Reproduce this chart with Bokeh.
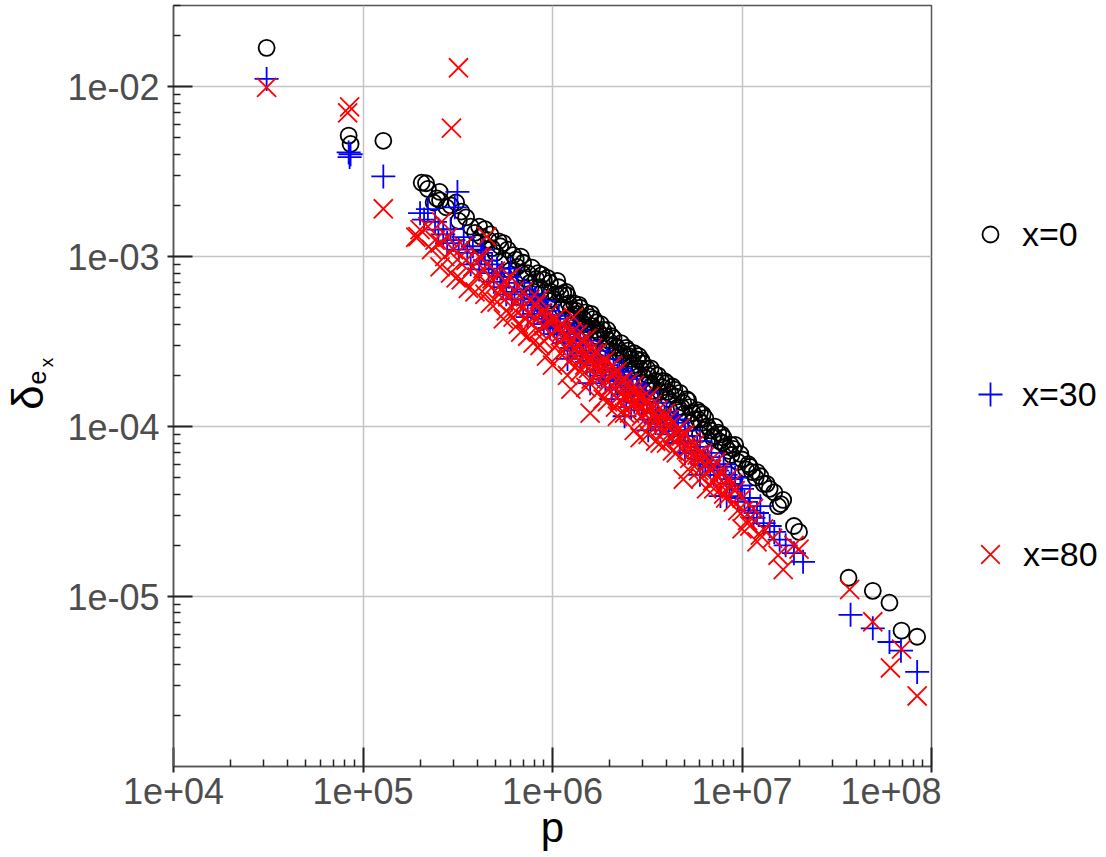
from math import pi
from bokeh.plotting import figure
from bokeh.layouts import row
from bokeh.models import Range1d, FixedTicker, Legend, LegendItem, Label, ColumnDataSource
from bokeh.embed import file_html
from bokeh.resources import INLINE

# ---------------- data ----------------
series_names = ["x=0", "x=30", "x=80"]

p_x0 = [3.1e4, 8.4e4, 8.6e4, 1.28e5,
        2.04e5, 2.15e5, 2.36e5, 2.54e5, 2.55e5, 2.75e5, 3.1e5, 3.3e5, 3.2e5, 3.7e5,
        3.9e5, 4.2e5, 4.0e5, 4.6e5, 5.0e5, 5.3e5, 5.8e5, 5.6e5, 6.2e5, 6.5e5,
        6.0e5, 7.0e5, 7.4e5, 7.8e5, 8.2e5, 8.6e5, 9.0e5, 9.4e5, 9.8e5, 1.06e6,
        1.02e6, 1.1e6, 1.15e6, 1.2e6, 1.25e6, 1.3e6, 1.35e6, 1.4e6, 1.45e6, 1.5e6,
        1.58e6, 1.62e6, 1.7e6, 1.75e6, 1.8e6, 1.9e6, 1.95e6, 2.0e6, 2.1e6, 2.2e6,
        2.3e6, 2.4e6, 2.5e6, 2.6e6, 2.7e6, 2.8e6, 2.9e6, 3.0e6, 3.2e6, 3.3e6,
        3.5e6, 3.6e6, 3.8e6, 4.0e6, 4.2e6, 4.4e6, 4.7e6, 4.9e6, 5.2e6, 5.5e6,
        5.8e6, 6.0e6, 6.1e6, 6.4e6, 6.8e6, 7.2e6, 7.5e6, 7.6e6, 8.0e6, 8.5e6,
        9.0e6, 9.5e6, 1.0e7, 1.05e7, 1.1e7, 1.18e7, 1.25e7, 1.3e7, 1.48e7, 1.55e7,
        1.65e7, 1.88e7, 2.0e7,
        1.5e6, 2.2e6, 3.4e6, 6.0e6, 8.0e5, 1.2e6, 9.5e5, 1.3e6, 1.9e6, 2.6e6,
        3.1e6, 4.5e6, 5.4e6,
        4.4e5, 4.8e5, 5.2e5, 6.8e5, 7.2e5, 8.4e5, 9.2e5, 1.08e6, 1.12e6, 1.18e6,
        1.28e6, 1.38e6, 1.42e6, 1.55e6, 1.65e6, 1.72e6, 1.85e6, 2.05e6, 2.15e6, 2.35e6,
        2.45e6, 2.55e6, 2.75e6, 2.95e6, 3.05e6, 3.25e6, 3.45e6, 3.7e6, 3.9e6, 4.1e6,
        4.3e6, 4.6e6, 5.0e6, 5.1e6, 5.6e6, 6.2e6, 6.6e6, 7.0e6, 7.8e6, 8.2e6,
        8.8e6, 9.2e6, 9.8e6, 1.08e7, 1.2e7, 1.4e7, 1.6e7,
        2.2e5, 2.45e5, 2.9e5, 3.5e5, 4.1e5, 4.7e5, 5.5e5, 6.4e5, 6.9e5, 7.6e5,
        8.8e5, 9.7e5, 1.04e6, 1.14e6, 1.22e6, 1.33e6, 1.47e6, 1.6e6, 1.68e6, 1.78e6,
        1.98e6, 2.12e6, 2.28e6, 2.52e6, 2.68e6, 2.85e6, 3.15e6, 3.35e6, 3.75e6, 4.05e6,
        4.5e6, 4.8e6, 5.3e6, 5.9e6, 6.3e6, 7.1e6, 7.9e6, 8.7e6, 1.13e7, 1.35e7,
        3.65e7, 4.9e7, 6.0e7, 6.95e7, 8.4e7]
d_x0 = [1.69e-2, 5.15e-3, 4.6e-3, 4.8e-3,
        2.72e-3, 2.70e-3, 2.08e-3, 2.40e-3, 2.14e-3, 1.95e-3, 2.08e-3, 1.84e-3, 1.62e-3, 1.50e-3,
        1.38e-3, 1.31e-3, 1.20e-3, 1.25e-3, 1.05e-3, 1.15e-3, 1.10e-3, 9.5e-4, 1.02e-3, 8.7e-4,
        8.3e-4, 9.2e-4, 8.0e-4, 8.6e-4, 7.4e-4, 6.6e-4, 7.3e-4, 7.5e-4, 6.2e-4, 7.2e-4,
        5.6e-4, 6.0e-4, 5.2e-4, 5.9e-4, 4.9e-4, 5.3e-4, 4.6e-4, 5.0e-4, 4.3e-4, 4.7e-4,
        4.4e-4, 3.9e-4, 4.1e-4, 3.6e-4, 4.0e-4, 3.4e-4, 3.7e-4, 3.0e-4, 3.3e-4, 2.9e-4,
        3.1e-4, 2.6e-4, 2.8e-4, 2.5e-4, 2.7e-4, 2.48e-4, 2.2e-4, 2.35e-4, 2.0e-4, 2.2e-4,
        1.85e-4, 2.0e-4, 1.7e-4, 1.8e-4, 1.55e-4, 1.65e-4, 1.58e-4, 1.38e-4, 1.42e-4, 1.2e-4,
        1.25e-4, 1.21e-4, 1.05e-4, 1.12e-4, 9.5e-5, 1.0e-4, 9.2e-5, 8.2e-5, 8.6e-5, 7.2e-5,
        7.4e-5, 6.2e-5, 6.4e-5, 5.6e-5, 5.8e-5, 5.0e-5, 5.1e-5, 4.6e-5, 4.1e-5, 3.4e-5,
        3.7e-5, 2.6e-5, 2.4e-5,
        3.6e-4, 2.45e-4, 1.62e-4, 9.0e-5, 6.2e-4, 4.3e-4, 5.5e-4, 4.0e-4, 2.9e-4, 2.15e-4,
        1.75e-4, 1.25e-4, 1.05e-4,
        1.45e-3, 1.12e-3, 1.23e-3, 1.0e-3, 7.4e-4, 8.0e-4, 6.2e-4, 6.6e-4, 5.0e-4, 6.2e-4,
        4.5e-4, 5.2e-4, 4.1e-4, 3.8e-4, 4.3e-4, 3.4e-4, 3.7e-4, 3.4e-4, 2.75e-4, 2.7e-4,
        2.9e-4, 2.35e-4, 2.2e-4, 2.45e-4, 1.95e-4, 1.8e-4, 2.05e-4, 1.6e-4, 1.85e-4, 1.45e-4,
        1.72e-4, 1.3e-4, 1.2e-4, 1.45e-4, 1.1e-4, 1.18e-4, 1.0e-4, 8.6e-5, 9.0e-5, 7.6e-5,
        6.8e-5, 7.8e-5, 6.9e-5, 6.0e-5, 5.4e-5, 4.3e-5, 3.5e-5,
        2.5e-3, 2.2e-3, 2.0e-3, 1.7e-3, 1.5e-3, 1.35e-3, 1.2e-3, 9.6e-4, 8.0e-4, 7.0e-4,
        7.8e-4, 7.0e-4, 6.0e-4, 6.1e-4, 5.3e-4, 4.8e-4, 4.0e-4, 4.6e-4, 3.7e-4, 3.5e-4,
        3.2e-4, 3.0e-4, 2.65e-4, 2.6e-4, 2.3e-4, 2.6e-4, 2.2e-4, 1.75e-4, 1.85e-4, 1.6e-4,
        1.5e-4, 1.3e-4, 1.3e-4, 1.1e-4, 9.6e-5, 8.8e-5, 8.0e-5, 7.8e-5, 5.4e-5, 4.6e-5,
        1.29e-5, 1.08e-5, 9.2e-6, 6.3e-6, 5.8e-6]

p_x30 = [3.1e4, 8.4e4, 8.6e4, 8.5e4, 1.28e5,
         2.0e5, 2.1e5, 2.5e5, 2.4e5, 2.78e5, 2.9e5, 3.05e5, 3.15e5, 3.2e5, 3.4e5,
         3.55e5, 3.8e5, 4.1e5, 4.4e5, 4.9e5, 5.1e5, 5.5e5, 5.9e5, 6.3e5, 6.8e5,
         7.1e5, 7.4e5, 7.8e5, 8.3e5, 8.8e5, 9.2e5, 9.7e5, 1.0e6, 1.05e6, 1.1e6,
         1.15e6, 1.2e6, 1.27e6, 1.33e6, 1.4e6, 1.46e6, 1.52e6, 1.58e6, 1.6e6, 1.68e6,
         1.75e6, 1.82e6, 1.9e6, 2.0e6, 2.05e6, 2.1e6, 2.2e6, 2.3e6, 2.4e6, 2.45e6,
         2.55e6, 2.7e6, 2.85e6, 3.0e6, 3.15e6, 3.3e6, 3.5e6, 3.7e6, 3.9e6, 4.1e6,
         4.4e6, 4.7e6, 5.0e6, 5.4e6, 5.8e6, 6.2e6, 6.6e6, 7.1e6, 7.6e6, 8.3e6,
         8.8e6, 9.5e6, 1.0e7, 1.08e7, 1.15e7, 1.3e7, 1.48e7, 1.58e7, 1.88e7, 2.1e7,
         6.0e5, 1.3e6, 2.6e6, 4.5e6, 9.0e5, 1.2e6, 3.2e6, 6.0e6, 7.7e6,
         1.02e6, 1.4e6, 1.7e6, 2.2e6, 3.6e6,
         4.2e5, 4.6e5, 5.3e5, 5.7e5, 6.5e5, 7.6e5, 8.0e5, 8.6e5, 9.5e5, 1.08e6,
         1.13e6, 1.24e6, 1.36e6, 1.44e6, 1.55e6, 1.64e6, 1.78e6, 1.86e6, 1.95e6, 2.15e6,
         2.35e6, 2.5e6, 2.65e6, 2.8e6, 2.95e6, 3.1e6, 3.4e6, 3.6e6, 3.8e6, 4.0e6,
         4.3e6, 4.6e6, 4.9e6, 5.2e6, 5.6e6, 6.0e6, 6.4e6, 6.9e6, 7.4e6, 8.0e6,
         8.6e6, 9.2e6, 1.03e7, 1.2e7, 1.4e7, 1.7e7,
         2.2e5, 2.65e5, 3.0e5, 3.7e5, 4.3e5, 4.8e5, 5.4e5, 6.1e5, 7.0e5, 8.1e5,
         9.0e5, 1.25e6, 1.5e6, 1.9e6, 2.25e6, 2.6e6, 3.0e6, 3.5e6, 4.2e6, 5.0e6,
         5.9e6, 6.8e6, 8.2e6, 9.8e6, 1.1e7, 1.25e7,
         3.74e7, 4.9e7, 6.0e7, 6.9e7, 8.4e7]
d_x30 = [1.11e-2, 4.1e-3, 4.0e-3, 3.85e-3, 2.96e-3,
         1.8e-3, 1.65e-3, 1.44e-3, 1.6e-3, 1.2e-3, 1.45e-3, 1.95e-3, 2.4e-3, 1.1e-3, 1.3e-3,
         1.05e-3, 1.15e-3, 8.4e-4, 9.5e-4, 7.1e-4, 8.5e-4, 6.6e-4, 7.6e-4, 6.2e-4, 5.6e-4,
         6.4e-4, 4.4e-4, 5.2e-4, 5.4e-4, 4.3e-4, 4.8e-4, 3.8e-4, 4.3e-4, 3.5e-4, 4.0e-4,
         3.1e-4, 3.6e-4, 2.9e-4, 3.3e-4, 2.6e-4, 3.0e-4, 2.4e-4, 1.8e-4, 2.8e-4, 2.3e-4,
         2.55e-4, 2.0e-4, 2.3e-4, 1.85e-4, 1.45e-4, 2.1e-4, 1.7e-4, 1.95e-4, 1.15e-4, 1.55e-4,
         1.75e-4, 1.4e-4, 1.55e-4, 1.25e-4, 1.4e-4, 1.1e-4, 1.25e-4, 1.0e-4, 1.12e-4, 9.0e-5,
         1.0e-4, 8.0e-5, 8.8e-5, 7.0e-5, 7.6e-5, 6.0e-5, 6.6e-5, 5.2e-5, 5.8e-5, 3.9e-5,
         4.9e-5, 3.8e-5, 4.3e-5, 3.2e-5, 2.9e-5, 2.7e-5, 2.4e-5, 2.16e-5, 1.8e-5, 1.6e-5,
         8.5e-4, 3.9e-4, 1.9e-4, 1.1e-4, 5.5e-4, 2.5e-4, 9.5e-5, 5.2e-5, 3.9e-5,
         3.9e-4, 3.2e-4, 2.6e-4, 2.0e-4, 1.2e-4,
         1.05e-3, 8.0e-4, 7.6e-4, 6.0e-4, 7.0e-4, 6.0e-4, 4.6e-4, 5.2e-4, 4.1e-4, 4.5e-4,
         3.5e-4, 3.3e-4, 3.7e-4, 2.7e-4, 3.2e-4, 2.45e-4, 2.8e-4, 2.15e-4, 2.5e-4, 1.85e-4,
         2.1e-4, 1.6e-4, 1.65e-4, 1.75e-4, 1.35e-4, 1.6e-4, 1.2e-4, 1.38e-4, 1.05e-4, 1.22e-4,
         9.4e-5, 1.05e-4, 8.2e-5, 9.5e-5, 7.2e-5, 8.2e-5, 6.3e-5, 7.0e-5, 5.5e-5, 6.0e-5,
         4.6e-5, 5.0e-5, 3.6e-5, 3.1e-5, 2.6e-5, 2.0e-5,
         1.9e-3, 1.35e-3, 1.25e-3, 9.0e-4, 1.1e-3, 9.0e-4, 8.0e-4, 5.6e-4, 5.2e-4, 5.7e-4,
         4.0e-4, 2.8e-4, 2.7e-4, 1.9e-4, 2.2e-4, 1.3e-4, 1.55e-4, 1.05e-4, 1.15e-4, 7.0e-5,
         6.5e-5, 5.8e-5, 5.2e-5, 4.5e-5, 3.8e-5, 3.4e-5,
         7.8e-6, 6.5e-6, 5.4e-6, 4.8e-6, 3.6e-6]

p_x80 = [3.1e4, 8.5e4, 8.3e4, 1.28e5, 3.19e5, 2.93e5,
         2.0e5, 1.95e5, 2.55e5, 2.55e5, 2.9e5, 3.3e5, 3.8e5, 4.5e5, 3.15e5, 5.1e5,
         6.2e5, 6.8e5, 7.9e5, 2.3e5, 2.7e5, 3.0e5, 3.5e5, 3.6e5, 4.0e5, 4.2e5,
         4.4e5, 4.8e5, 5.4e5, 5.7e5, 6.0e5, 6.5e5, 7.2e5, 7.6e5, 8.4e5, 8.8e5,
         9.3e5, 9.8e5, 1.04e6, 1.1e6, 1.16e6, 1.25e6, 1.22e6, 1.29e6, 1.32e6, 1.4e6,
         1.45e6, 1.52e6, 1.58e6, 1.6e6, 1.68e6, 1.75e6, 1.82e6, 1.9e6, 1.95e6, 2.05e6,
         2.15e6, 2.2e6, 2.3e6, 2.4e6, 2.5e6, 2.6e6, 2.7e6, 2.8e6, 2.95e6, 3.1e6,
         3.2e6, 3.4e6, 3.6e6, 3.7e6, 3.9e6, 4.1e6, 4.3e6, 4.6e6, 4.9e6, 5.0e6,
         5.3e6, 5.6e6, 5.9e6, 6.3e6, 6.5e6, 6.9e6, 7.3e6, 7.9e6, 8.5e6, 9.0e6,
         1.0e7, 1.07e7, 1.0e7, 1.15e7, 1.2e7, 1.25e7, 1.65e7, 1.88e7, 2.0e7,
         1.08e6, 1.18e6, 1.36e6, 1.48e6, 1.65e6, 1.78e6, 2.0e6, 2.25e6, 2.45e6, 2.65e6,
         3.0e6, 3.3e6, 3.8e6, 4.4e6, 5.1e6, 6.0e6, 7.0e6, 8.0e5, 9.0e5, 7.0e5, 5.8e5,
         2.6e5, 1.9e5,
         4.3e5, 4.7e5, 5.0e5, 5.5e5, 6.3e5, 6.6e5, 7.4e5, 8.2e5, 8.6e5, 9.5e5,
         1.0e6, 1.13e6, 1.2e6, 1.27e6, 1.34e6, 1.42e6, 1.5e6, 1.56e6, 1.7e6, 1.72e6,
         1.85e6, 1.92e6, 2.1e6, 2.2e6, 2.35e6, 2.55e6, 2.75e6, 2.9e6, 3.0e6, 3.15e6,
         3.35e6, 3.5e6, 3.75e6, 4.0e6, 4.2e6, 4.5e6, 4.8e6, 5.2e6, 5.5e6, 5.8e6,
         6.1e6, 6.7e6, 7.1e6, 7.6e6, 8.2e6, 8.8e6, 9.5e6, 1.1e7, 1.3e7, 1.45e7, 1.55e7,
         2.2e5, 2.4e5, 2.8e5, 3.1e5, 3.4e5, 3.9e5, 4.1e5, 4.6e5, 5.2e5, 5.6e5,
         6.4e5, 7.0e5, 7.8e5, 8.5e5, 9.0e5, 9.6e5, 1.05e6, 1.12e6, 1.2e6, 1.3e6,
         1.38e6, 1.46e6, 1.55e6, 1.63e6, 1.8e6, 1.98e6, 2.08e6, 2.28e6, 2.5e6, 2.7e6,
         3.05e6, 3.25e6, 3.55e6, 3.95e6, 4.25e6, 4.7e6, 5.4e6, 6.2e6, 7.5e6, 8.0e6,
         9.2e6, 1.02e7,
         3.7e7, 4.9e7, 6.95e7, 6.07e7, 8.4e7]
d_x80 = [9.9e-3, 7.6e-3, 7.0e-3, 1.91e-3, 1.29e-2, 5.7e-3,
         1.44e-3, 1.31e-3, 1.2e-3, 8.7e-4, 8.0e-4, 7.3e-4, 8.7e-4, 1.31e-3, 9.6e-4, 5.4e-4,
         4.4e-4, 3.6e-4, 3.1e-4, 1.1e-3, 1.0e-3, 1.1e-3, 9.5e-4, 6.5e-4, 7.6e-4, 9.8e-4,
         6.0e-4, 7.4e-4, 6.5e-4, 4.8e-4, 7.6e-4, 5.4e-4, 4.3e-4, 5.6e-4, 3.7e-4, 4.7e-4,
         2.6e-4, 3.5e-4, 4.3e-4, 2.7e-4, 3.4e-4, 1.66e-4, 2.4e-4, 4.4e-4, 2.9e-4, 2.1e-4,
         2.6e-4, 3.3e-4, 1.2e-4, 1.9e-4, 2.3e-4, 1.6e-4, 2.0e-4, 2.45e-4, 1.4e-4, 1.75e-4,
         1.3e-4, 2.1e-4, 1.55e-4, 1.2e-4, 1.8e-4, 1.35e-4, 9.5e-5, 1.55e-4, 1.15e-4, 1.4e-4,
         9.0e-5, 1.05e-4, 1.25e-4, 8.0e-5, 9.5e-5, 1.1e-4, 7.2e-5, 8.6e-5, 4.9e-5, 9.0e-5,
         6.5e-5, 7.8e-5, 5.5e-5, 6.6e-5, 4.3e-5, 5.6e-5, 6.2e-5, 4.4e-5, 5.0e-5, 3.6e-5,
         2.5e-5, 2.8e-5, 3.8e-5, 3.3e-5, 2.1e-5, 2.3e-5, 1.44e-5, 2.0e-5, 1.9e-5,
         3.9e-4, 2.9e-4, 3.5e-4, 2.3e-4, 2.7e-4, 2.35e-4, 2.2e-4, 1.8e-4, 1.55e-4, 1.6e-4,
         1.3e-4, 1.25e-4, 1.1e-4, 9.2e-5, 7.3e-5, 6.3e-5, 4.8e-5, 4.4e-4, 3.9e-4, 5.0e-4, 5.8e-4,
         1.6e-3, 1.3e-3,
         8.5e-4, 5.3e-4, 8.2e-4, 4.3e-4, 6.3e-4, 4.0e-4, 3.4e-4, 5.2e-4, 3.0e-4, 4.6e-4,
         2.3e-4, 4.0e-4, 2.0e-4, 3.6e-4, 2.3e-4, 3.2e-4, 1.7e-4, 2.5e-4, 2.0e-4, 2.7e-4,
         1.45e-4, 1.9e-4, 2.05e-4, 1.15e-4, 1.85e-4, 1.2e-4, 1.4e-4, 8.6e-5, 1.5e-4, 1.05e-4,
         1.35e-4, 8.2e-5, 1.0e-4, 8.0e-5, 1.02e-4, 7.0e-5, 8.8e-5, 5.6e-5, 7.2e-5, 6.8e-5,
         5.0e-5, 6.2e-5, 4.3e-5, 5.4e-5, 3.8e-5, 4.6e-5, 3.2e-5, 2.6e-5, 2.5e-5, 2.2e-5, 1.75e-5,
         1.5e-3, 1.25e-3, 1.3e-3, 7.5e-4, 1.15e-3, 6.2e-4, 1.0e-3, 6.8e-4, 6.0e-4, 7.2e-4,
         4.8e-4, 6.2e-4, 4.0e-4, 5.6e-4, 3.2e-4, 4.1e-4, 3.0e-4, 3.6e-4, 3.1e-4, 2.6e-4,
         3.0e-4, 2.8e-4, 2.2e-4, 2.9e-4, 2.2e-4, 1.65e-4, 2.3e-4, 1.4e-4, 1.45e-4, 1.75e-4,
         1.2e-4, 1.5e-4, 1.12e-4, 1.2e-4, 8.5e-5, 9.8e-5, 8.2e-5, 7.0e-5, 5.0e-5, 4.0e-5,
         4.2e-5, 3.2e-5,
         1.1e-5, 7.1e-6, 4.9e-6, 3.8e-6, 2.6e-6]

x_tick_values = [1e4, 1e5, 1e6, 1e7, 1e8]
x_tick_labels = ["1e+04", "1e+05", "1e+06", "1e+07", "1e+08"]
y_tick_values = [1e-5, 1e-4, 1e-3, 1e-2]
y_tick_labels = ["1e-05", "1e-04", "1e-03", "1e-02"]

# ---------------- styling ----------------
FONT = "Liberation Sans"
TOTAL_H = 856
FRAME_TOP = 5
FRAME_H = 761
FRAME_BOTTOM = FRAME_TOP + FRAME_H   # frames of the row's plots are aligned
ADJ = 6                              # measured offset of the side panels' frames

# ---------------- main plot ----------------
p = figure(x_axis_type="log", y_axis_type="log",
           x_range=Range1d(1e4, 1e8), y_range=Range1d(1e-6, 3e-2),
           frame_width=758, frame_height=FRAME_H,
           min_border_left=111, min_border_top=FRAME_TOP, min_border_right=10, min_border_bottom=0,
           output_backend="svg", toolbar_location=None)
p.background_fill_color = "white"
p.border_fill_color = "white"
p.outline_line_color = "#555555"
p.outline_line_width = 1.5

x_minor = [m * 10.0 ** e for e in range(4, 8) for m in range(2, 10)]
y_minor = [m * 10.0 ** e for e in range(-6, -1) for m in range(2, 10) if m * 10.0 ** e < 3.01e-2]
p.xaxis.ticker = FixedTicker(ticks=x_tick_values, minor_ticks=x_minor)
p.yaxis.ticker = FixedTicker(ticks=y_tick_values, minor_ticks=y_minor)
p.xaxis.major_label_overrides = dict(zip(x_tick_values, x_tick_labels))
p.yaxis.major_label_overrides = dict(zip(y_tick_values, y_tick_labels))

for ax in (p.xaxis[0], p.yaxis[0]):
    ax.axis_line_color = "#555555"
    ax.axis_line_width = 1.5
    ax.major_tick_line_color = "#222222"
    ax.major_tick_line_width = 2
    ax.major_tick_in = 19
    ax.major_tick_out = 6
    ax.minor_tick_line_color = "#222222"
    ax.minor_tick_line_width = 1.5
    ax.minor_tick_in = 7
    ax.minor_tick_out = 0
    ax.major_label_text_font = FONT
    ax.major_label_text_font_size = "36px"
    ax.major_label_text_color = "#4d4d4d"

p.xaxis.major_label_standoff = 5
p.yaxis.major_label_standoff = 8
p.xaxis.axis_label = "p"
p.xaxis.axis_label_text_font = FONT
p.xaxis.axis_label_text_font_size = "42px"
p.xaxis.axis_label_text_font_style = "normal"
p.xaxis.axis_label_text_color = "black"
p.xaxis.axis_label_standoff = -3

p.grid.grid_line_color = "#c4c4c4"
p.grid.grid_line_width = 1.5

src0 = ColumnDataSource(dict(p=p_x0, d=d_x0))
src30 = ColumnDataSource(dict(p=p_x30, d=d_x30))
src80 = ColumnDataSource(dict(p=p_x80, d=d_x80))

style0 = dict(marker="circle", size=16, fill_color=None, line_color="black", line_width=1.8)
style30 = dict(marker="cross", size=24, line_color="#0000ff", line_width=1.8)
style80 = dict(marker="x", size=27, line_color="#ff0000", line_width=1.8)

p.scatter("p", "d", source=src0, **style0)
p.scatter("p", "d", source=src30, **style30)
p.scatter("p", "d", source=src80, **style80)

# ---------------- y-axis label panel (delta with nested subscripts) ----------------
lab = figure(width=62, height=TOTAL_H, x_range=(0, 1), y_range=(0, 1),
             min_border=0, x_axis_location=None, y_axis_location=None,
             output_backend="svg", toolbar_location=None)
lab.outline_line_color = None
lab.grid.grid_line_color = None
for txt, sx, sy, fs in (("δ", 27, FRAME_BOTTOM - 400 + ADJ, "44px"),
                        ("e", 36, FRAME_BOTTOM - 380 + ADJ, "25px"),
                        ("x", 46, FRAME_BOTTOM - 365 + ADJ, "19px")):
    lab.add_layout(Label(x=sx, y=sy, x_units="screen", y_units="screen", text=txt,
                         angle=pi / 2, text_align="center", text_baseline="middle",
                         text_font=FONT, text_font_size=fs, text_color="black"))

# ---------------- legend panel ----------------
# The legend keys reuse the series' sources; the panel's own ranges keep those points out of view.
leg = figure(width=159, height=TOTAL_H, x_range=(0, 1), y_range=(0, 1),
             min_border=0, x_axis_location=None, y_axis_location=None,
             output_backend="svg", toolbar_location=None)
leg.outline_line_color = None
leg.grid.grid_line_color = None
k0 = leg.scatter("p", "d", source=src0, **style0)
k30 = leg.scatter("p", "d", source=src30, **style30)
k80 = leg.scatter("p", "d", source=src80, **style80)

GLYPH_CX = 49      # legend key centre, px from the panel's left edge
TEXT_X = 81        # legend text start, px from the panel's left edge
for name, rend, box, cy in ((series_names[0], k0, 40, 237),
                            (series_names[1], k30, 60, 397),
                            (series_names[2], k80, 66, 557)):
    leg.add_layout(Legend(items=[LegendItem(label=name, renderers=[rend])],
                          location=(GLYPH_CX - box // 2, FRAME_BOTTOM - (cy + box // 2) + ADJ),
                          orientation="vertical",
                          border_line_color=None, background_fill_alpha=0,
                          label_text_font=FONT, label_text_font_size="34px",
                          label_text_color="black",
                          glyph_width=box, glyph_height=box, label_height=box,
                          margin=0, padding=0,
                          label_standoff=max(TEXT_X - GLYPH_CX - box // 2, 0)), "center")

layout = row(lab, p, leg)
open("out.html", "w").write(file_html(layout, INLINE))
